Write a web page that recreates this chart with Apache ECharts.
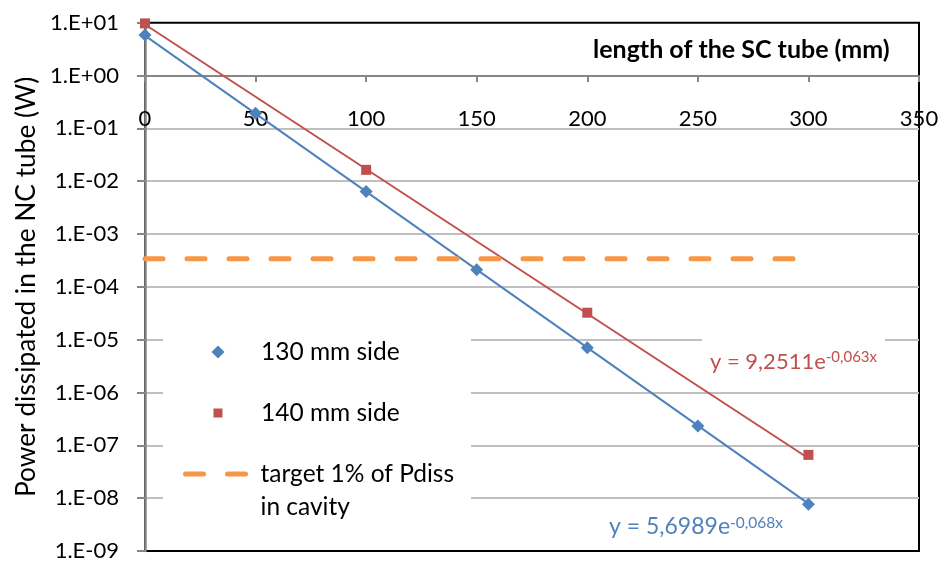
<!DOCTYPE html>
<html>
<head>
<meta charset="utf-8">
<script src="https://cdn.jsdelivr.net/npm/echarts@6/dist/echarts.min.js"></script>
<style>html,body{margin:0;padding:0;background:#fff;}#c{width:942px;height:562px;}</style>
</head>
<body>
<div id="c"></div>
<script>
// ---- data ----
const xTickLabels = ['0', '50', '100', '150', '200', '250', '300', '350'];
const yTickLabels = ['1.E-09', '1.E-08', '1.E-07', '1.E-06', '1.E-05', '1.E-04', '1.E-03', '1.E-02', '1.E-01', '1.E+00', '1.E+01'];
const length130 = [0, 50, 100, 150, 200, 250, 300];
const power130 = [5.85, 0.194, 0.0064, 2.1e-4, 7.05e-6, 2.33e-7, 7.7e-9];
const length140 = [0, 100, 200, 300];
const power140 = [9.7, 0.0164, 3.24e-5, 6.6e-8];
const trendX = [0, 300];
const trend130 = [5.6989, 7.9e-9];
const trend140 = [9.2511, 5.7e-8];
const targetX = [0, 300];
const targetY = [3.4e-4, 3.4e-4];
const seriesNames = ['130 mm side', '140 mm side', 'target 1% of Pdiss\nin cavity'];
const eq130 = ['y = 5,6989e', '-0,068x'];
const eq140 = ['y = 9,2511e', '-0,063x'];

const BLUE = '#4F81BD', RED = '#C0504D', ORANGE = '#F79646';
const FONT = 'Lato';
const zip = (a, b) => a.map((v, i) => [v, b[i]]);

const legendBase = {
  orient: 'vertical', padding: 0,
  itemWidth: 64, itemHeight: 13, symbolKeepAspect: true,
  textStyle: {fontSize: 24.5, color: '#000', fontFamily: FONT, lineHeight: 30, padding: [0, 0, 0, 6]}
};

const chart = echarts.init(document.getElementById('c'), null, {renderer: 'canvas'});
chart.setOption({
  animation: false,
  backgroundColor: '#fff',
  textStyle: {fontFamily: FONT},
  grid: {left: 145, right: 23, top: 22.7, bottom: 10, show: true, borderColor: '#000', borderWidth: 2, backgroundColor: 'transparent'},
  title: {
    text: 'length of the SC tube (mm)', left: 593, top: 37, padding: 0,
    textStyle: {fontFamily: FONT, fontWeight: 'bold', fontSize: 25, color: '#000'}
  },
  xAxis: {
    type: 'value', min: 0, max: 350, interval: 50, position: 'top', offset: -53.3,
    axisLine: {onZero: false, lineStyle: {color: '#868686', width: 2}},
    axisTick: {inside: true, length: 6, lineStyle: {color: '#868686', width: 2}},
    axisLabel: {inside: true, margin: 32, fontSize: 22, color: '#000', fontFamily: FONT,
      formatter: v => xTickLabels[Math.round(v / 50)]},
    splitLine: {show: false}
  },
  yAxis: {
    type: 'log', logBase: 10, min: 1e-9, max: 10, interval: 1,
    name: 'Power dissipated in the NC tube (W)', nameLocation: 'middle', nameGap: 104,
    nameTextStyle: {fontSize: 26.3, color: '#000', fontFamily: FONT},
    axisLine: {lineStyle: {color: '#868686', width: 2.5}},
    axisTick: {length: 8, lineStyle: {color: '#868686', width: 2}},
    axisLabel: {margin: 26, fontSize: 22, color: '#000', fontFamily: FONT,
      formatter: v => yTickLabels[Math.round(Math.log10(v)) + 9]},
    splitLine: {show: true, showMinLine: false, showMaxLine: false, lineStyle: {color: '#BFBFBF', width: 2}}
  },
  legend: [
    Object.assign({}, legendBase, {left: 211.5, top: 337,
      data: [{name: seriesNames[0], icon: 'path://M6.5,0L13,6.5L6.5,13L0,6.5z', itemStyle: {opacity: 1}}]}),
    Object.assign({}, legendBase, {left: 211.5, top: 398,
      data: [{name: seriesNames[1], icon: 'path://M2,2h9v9h-9z M0,0h0.01v0.01z M13,13h0.01v0.01z', itemStyle: {opacity: 1}}]}),
    Object.assign({}, legendBase, {left: 183, top: 424.5,
      formatter: name => ' \n' + name,
      lineStyle: {width: 5, type: [18, 24], cap: 'round', color: ORANGE},
      textStyle: {fontSize: 24.5, color: '#000', fontFamily: FONT, lineHeight: 33, padding: [0, 0, 0, 6]},
      data: [{name: seriesNames[2], itemStyle: {opacity: 0}}]})
  ],
  graphic: [
    {type: 'rect', z: 1, silent: true, shape: {x: 163, y: 300, width: 308, height: 235}, style: {fill: '#fff'}},
    {type: 'text', left: 702, top: 334, z: 10,
      style: {text: '{m|' + eq140[0] + '}{s|' + eq140[1] + '}', backgroundColor: '#fff', padding: [16, 8, 10, 8],
        rich: {m: {fontSize: 22, lineHeight: 24, fill: RED, fontFamily: FONT},
               s: {fontSize: 15, lineHeight: 15, verticalAlign: 'top', fill: RED, fontFamily: FONT}}}},
    {type: 'text', left: 601, top: 509, z: 10,
      style: {text: '{m|' + eq130[0] + '}{s|' + eq130[1] + '}', backgroundColor: '#fff', padding: [6, 8, 6, 8],
        rich: {m: {fontSize: 23, lineHeight: 24, fill: BLUE, fontFamily: FONT},
               s: {fontSize: 15.5, lineHeight: 15, verticalAlign: 'top', fill: BLUE, fontFamily: FONT}}}}
  ],
  series: [
    {name: 'trend130', type: 'line', data: zip(trendX, trend130), symbol: 'none', silent: true, z: 2,
      lineStyle: {color: BLUE, width: 2}},
    {name: 'trend140', type: 'line', data: zip(trendX, trend140), symbol: 'none', silent: true, z: 2,
      lineStyle: {color: RED, width: 2}},
    {name: seriesNames[2], type: 'line', data: zip(targetX, targetY), symbol: 'none', showSymbol: false, z: 2,
      itemStyle: {color: ORANGE},
      lineStyle: {color: ORANGE, width: 5, type: [18, 24], cap: 'round'}},
    {name: seriesNames[0], type: 'scatter', data: zip(length130, power130), symbol: 'diamond', symbolSize: 13, z: 3,
      itemStyle: {color: BLUE, opacity: 1}},
    {name: seriesNames[1], type: 'scatter', data: zip(length140, power140), symbol: 'rect', symbolSize: 10, z: 3,
      itemStyle: {color: RED, opacity: 1}}
  ]
});
</script>
</body>
</html>
